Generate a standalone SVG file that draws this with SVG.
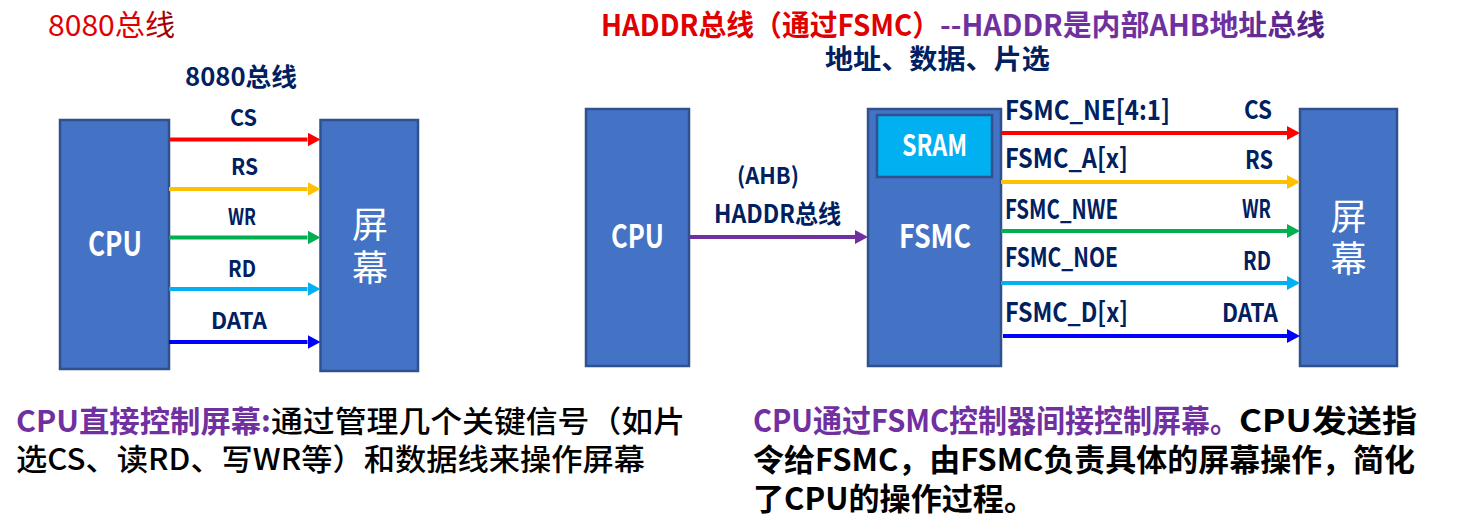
<svg xmlns="http://www.w3.org/2000/svg" width="1458" height="525" viewBox="0 0 1458 525">
<style>
text{font-family:'Noto Sans CJK SC','Noto Sans',sans-serif}
.box{fill:#4472C4;stroke:#2F528F;stroke-width:2.5}
.sram{fill:#00B0F0;stroke:#2F528F;stroke-width:2.5}
.wl{fill:#fff;font-weight:700}
.scr{fill:#fff;font-weight:400}
.lbl{fill:#002060;font-weight:700}
.ln{stroke-width:4;fill:none}
.pur{fill:#7030A0;font-weight:700}
.blk{fill:#000}
</style>
<defs>
<linearGradient id="gRed" x1="0" y1="0" x2="1" y2="0"><stop offset="0.7" stop-color="#E00000"/><stop offset="1" stop-color="#8B0000"/></linearGradient>
<linearGradient id="gPur" x1="0" y1="0" x2="1" y2="0"><stop offset="0.75" stop-color="#7030A0"/><stop offset="1" stop-color="#502080"/></linearGradient>
<marker id="aRed" markerUnits="userSpaceOnUse" markerWidth="14" markerHeight="14" refX="0" refY="7" orient="auto"><path d="M0,0 L13,7 L0,14 z" fill="#FF0000"/></marker>
<marker id="aYel" markerUnits="userSpaceOnUse" markerWidth="14" markerHeight="14" refX="0" refY="7" orient="auto"><path d="M0,0 L13,7 L0,14 z" fill="#FFC000"/></marker>
<marker id="aGrn" markerUnits="userSpaceOnUse" markerWidth="14" markerHeight="14" refX="0" refY="7" orient="auto"><path d="M0,0 L13,7 L0,14 z" fill="#00B050"/></marker>
<marker id="aLb" markerUnits="userSpaceOnUse" markerWidth="14" markerHeight="14" refX="0" refY="7" orient="auto"><path d="M0,0 L13,7 L0,14 z" fill="#00B0F0"/></marker>
<marker id="aBlu" markerUnits="userSpaceOnUse" markerWidth="14" markerHeight="14" refX="0" refY="7" orient="auto"><path d="M0,0 L13,7 L0,14 z" fill="#0000FF"/></marker>
<marker id="aPur" markerUnits="userSpaceOnUse" markerWidth="14" markerHeight="14" refX="0" refY="7" orient="auto"><path d="M0,0 L13,7 L0,14 z" fill="#7030A0"/></marker>
</defs>
<rect width="1458" height="525" fill="#fff"/>

<!-- titles -->
<text x="48" y="36" font-size="29" fill="url(#gRed)" textLength="127" lengthAdjust="spacingAndGlyphs">8080总线</text>
<text x="601" y="36" font-size="29" font-weight="700" fill="#E00000" textLength="339" lengthAdjust="spacingAndGlyphs">HADDR总线（通过FSMC）</text>
<text x="940" y="36" font-size="29" font-weight="700" fill="url(#gPur)" textLength="385" lengthAdjust="spacingAndGlyphs">--HADDR是内部AHB地址总线</text>

<!-- left diagram nodes -->
<g id="cpu-left">
<rect class="box" x="60" y="120" width="109" height="249"/>
<text class="wl" x="88" y="256" font-size="33" textLength="54" lengthAdjust="spacingAndGlyphs">CPU</text>
</g>
<g id="screen-left">
<rect class="box" x="320.5" y="120" width="97.5" height="251"/>
<text class="scr" font-size="36" text-anchor="middle"><tspan x="370" y="238">屏</tspan><tspan x="370" y="281">幕</tspan></text>
</g>

<!-- right diagram nodes -->
<g id="cpu-right">
<rect class="box" x="586" y="109" width="103" height="257"/>
<text class="wl" x="611" y="248" font-size="32" textLength="53" lengthAdjust="spacingAndGlyphs">CPU</text>
</g>
<g id="fsmc">
<rect class="box" x="868" y="109" width="133" height="257"/>
<text class="wl" x="899" y="248" font-size="32" textLength="72" lengthAdjust="spacingAndGlyphs">FSMC</text>
<g id="sram">
<rect class="sram" x="877" y="115" width="115" height="62"/>
<text class="wl" x="902" y="156" font-size="29" textLength="65" lengthAdjust="spacingAndGlyphs">SRAM</text>
</g>
</g>
<g id="screen-right">
<rect class="box" x="1300" y="109" width="97" height="257"/>
<text class="scr" font-size="36" text-anchor="middle"><tspan x="1348.5" y="230">屏</tspan><tspan x="1348.5" y="272">幕</tspan></text>
</g>

<!-- connectors -->
<g id="connectors">
<line class="ln" x1="169" y1="139.5" x2="307.5" y2="139.5" stroke="#FF0000" marker-end="url(#aRed)"/>
<line class="ln" x1="169" y1="189" x2="307.5" y2="189" stroke="#FFC000" marker-end="url(#aYel)"/>
<line class="ln" x1="169" y1="237.5" x2="307.5" y2="237.5" stroke="#00B050" marker-end="url(#aGrn)"/>
<line class="ln" x1="169" y1="289" x2="307.5" y2="289" stroke="#00B0F0" marker-end="url(#aLb)"/>
<line class="ln" x1="169" y1="342" x2="307.5" y2="342" stroke="#0000FF" marker-end="url(#aBlu)"/>

<line class="ln" x1="689" y1="237" x2="855" y2="237" stroke="#7030A0" marker-end="url(#aPur)"/>

<line class="ln" x1="1001" y1="133" x2="1287" y2="133" stroke="#FF0000" marker-end="url(#aRed)"/>
<line class="ln" x1="1001" y1="182" x2="1287" y2="182" stroke="#FFC000" marker-end="url(#aYel)"/>
<line class="ln" x1="1001" y1="231" x2="1287" y2="231" stroke="#00B050" marker-end="url(#aGrn)"/>
<line class="ln" x1="1001" y1="283" x2="1287" y2="283" stroke="#00B0F0" marker-end="url(#aLb)"/>
<line class="ln" x1="1003" y1="336" x2="1287" y2="336" stroke="#0000FF" marker-end="url(#aBlu)"/>
</g>

<!-- connector labels -->
<g id="labels">
<text class="lbl" x="185" y="86" font-size="25" textLength="112" lengthAdjust="spacingAndGlyphs">8080总线</text>
<text class="lbl" x="230" y="126" font-size="23" textLength="27" lengthAdjust="spacingAndGlyphs">CS</text>
<text class="lbl" x="231" y="175" font-size="23" textLength="27" lengthAdjust="spacingAndGlyphs">RS</text>
<text class="lbl" x="228" y="225" font-size="23" textLength="28" lengthAdjust="spacingAndGlyphs">WR</text>
<text class="lbl" x="228" y="277" font-size="23" textLength="28" lengthAdjust="spacingAndGlyphs">RD</text>
<text class="lbl" x="211" y="329" font-size="23" textLength="56" lengthAdjust="spacingAndGlyphs">DATA</text>

<text class="lbl" x="825" y="69" font-size="27" textLength="225" lengthAdjust="spacingAndGlyphs">地址、数据、片选</text>
<text class="lbl" x="737" y="184" font-size="23" textLength="62" lengthAdjust="spacingAndGlyphs">(AHB)</text>
<text class="lbl" x="714" y="223" font-size="25" textLength="127" lengthAdjust="spacingAndGlyphs">HADDR总线</text>

<text class="lbl" x="1005" y="120" font-size="27" textLength="165" lengthAdjust="spacingAndGlyphs">FSMC_NE[4:1]</text>
<text class="lbl" x="1244" y="119" font-size="25" textLength="28" lengthAdjust="spacingAndGlyphs">CS</text>
<text class="lbl" x="1005" y="168" font-size="27" textLength="123" lengthAdjust="spacingAndGlyphs">FSMC_A[x]</text>
<text class="lbl" x="1245" y="169" font-size="25" textLength="28" lengthAdjust="spacingAndGlyphs">RS</text>
<text class="lbl" x="1005" y="219" font-size="27" textLength="113" lengthAdjust="spacingAndGlyphs">FSMC_NWE</text>
<text class="lbl" x="1242" y="218" font-size="25" textLength="29" lengthAdjust="spacingAndGlyphs">WR</text>
<text class="lbl" x="1005" y="267" font-size="27" textLength="113" lengthAdjust="spacingAndGlyphs">FSMC_NOE</text>
<text class="lbl" x="1243" y="270" font-size="25" textLength="28" lengthAdjust="spacingAndGlyphs">RD</text>
<text class="lbl" x="1005" y="322" font-size="27" textLength="123" lengthAdjust="spacingAndGlyphs">FSMC_D[x]</text>
<text class="lbl" x="1222" y="322" font-size="25" textLength="56" lengthAdjust="spacingAndGlyphs">DATA</text>
</g>

<!-- descriptions -->
<g id="desc-left" font-size="30">
<text class="pur" x="16" y="432" textLength="255" lengthAdjust="spacingAndGlyphs">CPU直接控制屏幕:</text>
<text class="blk" x="271" y="432" textLength="414" lengthAdjust="spacingAndGlyphs" font-weight="500">通过管理几个关键信号（如片</text>
<text class="blk" x="16" y="470" textLength="629" lengthAdjust="spacingAndGlyphs" font-weight="500">选CS、读RD、写WR等）和数据线来操作屏幕</text>
</g>
<g id="desc-right" font-size="31">
<text class="pur" x="753" y="432" textLength="486" lengthAdjust="spacingAndGlyphs">CPU通过FSMC控制器间接控制屏幕。</text>
<text class="blk" x="1239" y="432" textLength="178" lengthAdjust="spacingAndGlyphs" font-weight="700">CPU发送指</text>
<text class="blk" x="753" y="471" textLength="662" lengthAdjust="spacingAndGlyphs" font-weight="700">令给FSMC，由FSMC负责具体的屏幕操作，简化</text>
<text class="blk" x="753" y="510" textLength="282" lengthAdjust="spacingAndGlyphs" font-weight="700">了CPU的操作过程。</text>
</g>
</svg>
